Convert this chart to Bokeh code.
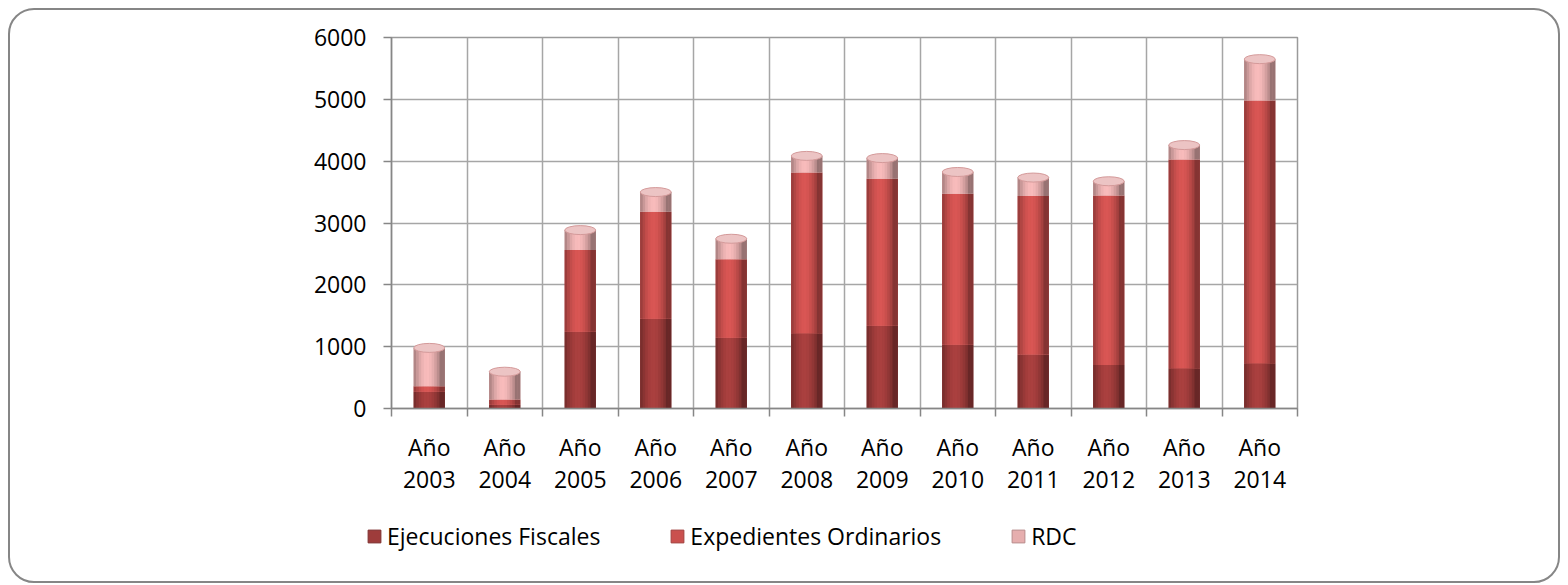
from bokeh.plotting import figure
from bokeh.models import (ColumnDataSource, Range1d, FixedTicker, Legend, LegendItem, InlineStyleSheet)
from bokeh.layouts import column, row
from bokeh.embed import file_html
from bokeh.resources import INLINE
import math

# ---- data ----
years = ["2003", "2004", "2005", "2006", "2007", "2008", "2009", "2010", "2011", "2012", "2013", "2014"]
tick_labels = ["Año\n" + y for y in years]
ejecuciones_fiscales = [270, 60, 1240, 1450, 1145, 1215, 1340, 1030, 875, 705, 650, 730]
expedientes_ordinarios = [90, 85, 1325, 1730, 1270, 2600, 2375, 2445, 2560, 2740, 3375, 4250]
rdc = [620, 450, 320, 320, 330, 270, 335, 350, 300, 230, 235, 670]
series_names = ["Ejecuciones Fiscales", "Expedientes Ordinarios", "RDC"]
series_values = [ejecuciones_fiscales, expedientes_ordinarios, rdc]
y_ticks = [0, 1000, 2000, 3000, 4000, 5000, 6000]

# ---- style ----
base_colors = [(158, 60, 59), (202, 80, 78), (230, 174, 174)]
FONT = "Open Sans"
FS = "23px"
BAR_W = 0.41
N_SLICES = 12
W = 1568
H_MAIN = 500
H_LEG = 85

n = len(years)
centers = [i + 0.5 for i in range(n)]

p = figure(width=W, height=H_MAIN, output_backend="svg", toolbar_location=None,
           x_range=Range1d(0, n), y_range=Range1d(y_ticks[0], y_ticks[-1]),
           min_border_left=391, min_border_right=W - 1297, min_border_top=37,
           min_border_bottom=H_MAIN - 408,
           background_fill_color="white", border_fill_color="white")
p.outline_line_color = "#9a9a9a"
p.outline_line_width = 1.5


def shade(rgb, t):
    # cylinder-like shading across the bar (t in 0..1)
    f = 0.72 + 0.36 * math.sin(math.pi * min(1.0, t * 1.15))
    if t > 0.85:
        f *= 0.92
    return "#%02x%02x%02x" % tuple(max(0, min(255, int(c * f))) for c in rgb)


def hexc(rgb):
    return "#%02x%02x%02x" % rgb


bottoms = [0] * n
for name, vals, rgb in zip(series_names, series_values, base_colors):
    tops = [b + v for b, v in zip(bottoms, vals)]
    base_src = ColumnDataSource(dict(x=centers, bottom=list(bottoms), top=tops))
    p.vbar(x="x", width=BAR_W, bottom="bottom", top="top", source=base_src,
           fill_color=hexc(rgb), line_color=None)
    for k in range(N_SLICES):
        t = (k + 0.5) / N_SLICES
        xs = [c - BAR_W / 2 + t * BAR_W for c in centers]
        src = ColumnDataSource(dict(x=xs, bottom=list(bottoms), top=tops))
        p.vbar(x="x", width=BAR_W / N_SLICES * 1.15, bottom="bottom", top="top", source=src,
               fill_color=shade(rgb, t), line_color=None)
    bottoms = tops

# top caps of the cylinders
p.ellipse(x=centers, y=bottoms, width=BAR_W, height=9, height_units="screen",
          fill_color="#ecc4c4", line_color="#d49a9a", line_width=1)

# axes
p.yaxis.ticker = FixedTicker(ticks=y_ticks)
p.yaxis.axis_line_color = "#868686"
p.yaxis.axis_line_width = 1.5
p.yaxis.major_tick_line_color = "#868686"
p.yaxis.major_tick_line_width = 1.5
p.yaxis.major_tick_out = 8
p.yaxis.major_tick_in = 0
p.yaxis.minor_tick_line_color = None
p.yaxis.major_label_standoff = 17
p.yaxis.major_label_text_font = FONT
p.yaxis.major_label_text_font_size = FS
p.yaxis.major_label_text_color = "#000000"

xt = FixedTicker(ticks=centers, minor_ticks=list(range(n + 1)))
p.xaxis.ticker = xt
p.xaxis.major_label_overrides = {c: lab for c, lab in zip(centers, tick_labels)}
p.xaxis.axis_line_color = "#868686"
p.xaxis.axis_line_width = 1.5
p.xaxis.major_tick_line_color = None
p.xaxis.major_tick_out = 0
p.xaxis.major_tick_in = 0
p.xaxis.minor_tick_line_color = "#868686"
p.xaxis.minor_tick_line_width = 1.5
p.xaxis.minor_tick_out = 8
p.xaxis.minor_tick_in = 0
p.xaxis.major_label_standoff = 14
p.xaxis.major_label_text_font = FONT
p.xaxis.major_label_text_font_size = FS
p.xaxis.major_label_text_color = "#000000"
p.xaxis.major_label_text_line_height = 1.0

p.xgrid.ticker = xt
p.xgrid.grid_line_color = None
p.xgrid.minor_grid_line_color = "#a6a6a6"
p.xgrid.minor_grid_line_width = 1.5
p.ygrid.ticker = FixedTicker(ticks=y_ticks)
p.ygrid.grid_line_color = "#a6a6a6"
p.ygrid.grid_line_width = 1.5

# ---- legend strip (separate figure below) ----
pl = figure(width=W, height=H_LEG, output_backend="svg", toolbar_location=None,
            x_range=Range1d(0, 1), y_range=Range1d(0, 1),
            min_border_left=0, min_border_right=0, min_border_top=0, min_border_bottom=0,
            background_fill_color="white", border_fill_color="white")
pl.axis.visible = False
pl.grid.visible = False
pl.outline_line_color = None
items = []
for name, rgb in zip(series_names, base_colors):
    # zero-size proxy glyph, only used for the legend swatch
    r = pl.vbar(x=[0.5], bottom=[0.5], top=[0.5], width=0, fill_color=hexc(rgb),
                line_color=hexc(tuple(int(c * 0.8) for c in rgb)))
    items.append(LegendItem(label=name, renderers=[r]))
legend = Legend(items=items, orientation="horizontal", location=(366, 33),
                border_line_color=None, background_fill_alpha=0, padding=0, margin=0,
                spacing=69, label_standoff=5, glyph_width=16, glyph_height=16,
                label_text_font=FONT, label_text_font_size=FS, label_text_color="#000000")
pl.add_layout(legend, "center")

frame_css = InlineStyleSheet(css="""
:host { position: relative; }
:host::after {
  content: "";
  position: absolute;
  left: 8px; top: 8px; right: 8px; bottom: 2px;
  border: 2px solid #868686;
  border-radius: 26px;
  pointer-events: none;
  z-index: 100;
}
""")

layout = column(p, row(pl), spacing=0, stylesheets=[frame_css])

open("out.html", "w").write(file_html(layout, INLINE))
